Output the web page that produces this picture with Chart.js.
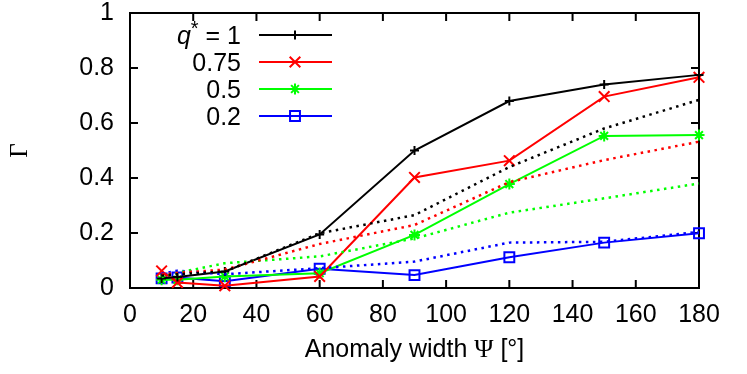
<!DOCTYPE html>
<html>
<head>
<meta charset="utf-8">
<script src="https://cdn.jsdelivr.net/npm/chart.js@4.4.0/dist/chart.umd.min.js"></script>
<style>
  html, body { margin: 0; padding: 0; background: #fff; }
  canvas { display: block; }
</style>
</head>
<body>
<canvas id="chart" width="747" height="374"></canvas>
<script>
// Anomaly width (degrees)
const psi = [10, 15, 30, 60, 90, 120, 150, 180];

// Gamma, solid lines with markers
const gammaQ1   = [0.035, 0.040, 0.060, 0.195, 0.500, 0.680, 0.740, 0.775];
const gammaQ075 = [0.062, 0.020, 0.008, 0.042, 0.402, 0.463, 0.696, 0.766];
const gammaQ05  = [0.030, 0.030, 0.042, 0.054, 0.193, 0.378, 0.553, 0.556];
const gammaQ02  = [0.035, 0.038, 0.025, 0.070, 0.047, 0.112, 0.165, 0.199];

// Gamma, dotted lines
const dottedQ1   = [0.045, 0.050, 0.060, 0.199, 0.265, 0.440, 0.580, 0.684];
const dottedQ075 = [0.050, 0.055, 0.067, 0.160, 0.229, 0.385, 0.465, 0.532];
const dottedQ05  = [0.040, 0.055, 0.090, 0.115, 0.180, 0.274, 0.326, 0.380];
const dottedQ02  = [0.052, 0.063, 0.050, 0.072, 0.096, 0.165, 0.168, 0.204];

const qLabels = ['1', '0.75', '0.5', '0.2'];

const colors = ['#000000', '#ff0000', '#00ff00', '#0000ff'];
const markers = ['cross', 'crossRot', 'star', 'rect'];
const markerRadius = [4.5, 7.5, 5.5, 7];

const SANS = "'Liberation Sans', Arial, sans-serif";
const SERIF = "'Liberation Serif', 'Times New Roman', serif";
const FS = 25;

const toPoints = ys => ys.map((y, i) => ({ x: psi[i], y: y }));

const measured = [gammaQ1, gammaQ075, gammaQ05, gammaQ02];
const dotted = [dottedQ1, dottedQ075, dottedQ05, dottedQ02];

const datasets = [];
dotted.forEach((ys, i) => {
    datasets.push({
        data: toPoints(ys),
        borderColor: colors[i],
        borderWidth: 2.5,
        borderDash: [2.5, 4.5],
        pointRadius: 0,
        fill: false,
        tension: 0,
        clip: false
    });
});
measured.forEach((ys, i) => {
    datasets.push({
        data: toPoints(ys),
        borderColor: colors[i],
        borderWidth: 2,
        pointStyle: markers[i],
        pointRadius: markerRadius[i],
        pointBorderWidth: 2,
        pointBorderColor: colors[i],
        pointBackgroundColor: 'rgba(0,0,0,0)',
        fill: false,
        tension: 0,
        clip: false
    });
});

// box around the plot with inward ticks on all four sides
const framePlugin = {
    id: 'frame',
    beforeDatasetsDraw(chart) {
        const { ctx, chartArea: a, scales } = chart;
        const len = 8;
        ctx.save();
        ctx.strokeStyle = '#000';
        ctx.lineWidth = 2;
        ctx.beginPath();
        scales.x.ticks.forEach(t => {
            const px = scales.x.getPixelForValue(t.value);
            ctx.moveTo(px, a.bottom); ctx.lineTo(px, a.bottom - len);
            ctx.moveTo(px, a.top); ctx.lineTo(px, a.top + len);
        });
        scales.y.ticks.forEach(t => {
            const py = scales.y.getPixelForValue(t.value);
            ctx.moveTo(a.left, py); ctx.lineTo(a.left + len, py);
            ctx.moveTo(a.right, py); ctx.lineTo(a.right - len, py);
        });
        ctx.stroke();
        ctx.strokeRect(a.left, a.top, a.right - a.left, a.bottom - a.top);
        ctx.restore();
    }
};

// axis titles (mixed sans / serif glyphs)
const titlesPlugin = {
    id: 'titles',
    afterDraw(chart) {
        const { ctx, chartArea: a } = chart;
        ctx.save();
        ctx.fillStyle = '#000';
        ctx.textBaseline = 'alphabetic';

        const parts = [
            { text: 'Anomaly width ', font: FS + 'px ' + SANS },
            { text: 'Ψ', font: (FS + 1) + 'px ' + SERIF },
            { text: ' [°]', font: FS + 'px ' + SANS }
        ];
        let total = 0;
        parts.forEach(p => { ctx.font = p.font; p.w = ctx.measureText(p.text).width; total += p.w; });
        let x = (a.left + a.right) / 2 - total / 2;
        parts.forEach(p => { ctx.font = p.font; ctx.fillText(p.text, x, 357); x += p.w; });

        ctx.translate(20, (a.top + a.bottom) / 2);
        ctx.rotate(-Math.PI / 2);
        ctx.font = FS + 'px ' + SERIF;
        ctx.textAlign = 'center';
        ctx.textBaseline = 'middle';
        ctx.fillText('Γ', 0, 0);
        ctx.restore();
    }
};

// legend: label on the left, sample line with marker on the right
const legendPlugin = {
    id: 'qlegend',
    afterDatasetsDraw(chart) {
        const { ctx } = chart;
        const textRight = 241, lineL = 259, lineR = 332, mid = 295;
        ctx.save();
        qLabels.forEach((lab, i) => {
            const y = 35 + i * 27;
            ctx.fillStyle = '#000';
            ctx.textBaseline = 'alphabetic';
            ctx.textAlign = 'left';
            if (i === 0) {
                const segs = [
                    { text: 'q', font: 'italic ' + FS + 'px ' + SANS, dy: 0 },
                    { text: '*', font: '20px ' + SANS, dy: -9 },
                    { text: ' = ' + lab, font: FS + 'px ' + SANS, dy: 0 }
                ];
                let total = 0;
                segs.forEach(s => { ctx.font = s.font; s.w = ctx.measureText(s.text).width; total += s.w; });
                let x = textRight - total;
                segs.forEach(s => { ctx.font = s.font; ctx.fillText(s.text, x, y + 9 + s.dy); x += s.w; });
            } else {
                ctx.font = FS + 'px ' + SANS;
                ctx.textAlign = 'right';
                ctx.fillText(lab, textRight, y + 9);
            }
            ctx.strokeStyle = colors[i];
            ctx.lineWidth = 2;
            ctx.beginPath();
            ctx.moveTo(lineL, y);
            ctx.lineTo(lineR, y);
            ctx.stroke();
            ctx.fillStyle = 'rgba(0,0,0,0)';
            Chart.helpers.drawPoint(ctx, {
                pointStyle: markers[i],
                radius: markerRadius[i],
                rotation: 0,
                borderWidth: 2
            }, mid, y);
        });
        ctx.restore();
    }
};

new Chart(document.getElementById('chart').getContext('2d'), {
    type: 'line',
    data: { datasets: datasets },
    options: {
        responsive: false,
        devicePixelRatio: 1,
        animation: false,
        layout: { padding: { top: 13, right: 48, left: 0, bottom: 0 } },
        plugins: {
            legend: { display: false },
            tooltip: { enabled: false }
        },
        scales: {
            x: {
                type: 'linear',
                min: 0,
                max: 180,
                grid: { display: false, drawTicks: false },
                border: { display: false },
                ticks: {
                    stepSize: 20,
                    color: '#000',
                    font: { family: SANS, size: FS },
                    padding: 12,
                    maxRotation: 0
                },
                afterFit: scale => {
                    scale.height = 86;
                    scale.paddingLeft = 0;
                    scale.paddingRight = 0;
                }
            },
            y: {
                min: 0,
                max: 1,
                grid: { display: false, drawTicks: false },
                border: { display: false },
                ticks: {
                    stepSize: 0.2,
                    color: '#000',
                    font: { family: SANS, size: FS },
                    padding: 16,
                    callback: v => String(Number(v.toFixed(2)))
                },
                afterFit: scale => {
                    scale.width = 130;
                    scale.paddingTop = 0;
                    scale.paddingBottom = 0;
                }
            }
        }
    },
    plugins: [framePlugin, titlesPlugin, legendPlugin]
});
</script>
</body>
</html>
